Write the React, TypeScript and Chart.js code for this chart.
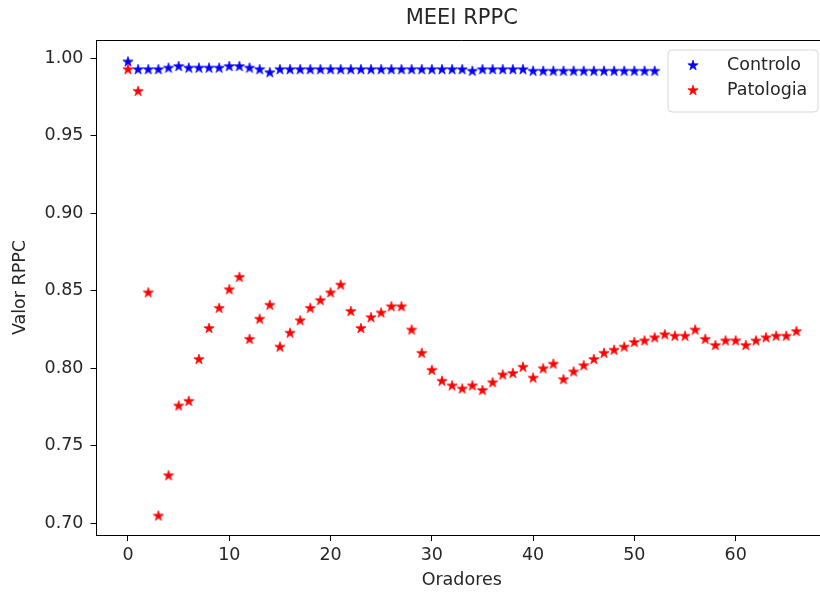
import React, { useEffect, useRef } from "react";
import { Chart, registerables } from "chart.js";

Chart.register(...registerables);

const chartTitle = "MEEI RPPC";
const xAxisLabel = "Oradores";
const yAxisLabel = "Valor RPPC";
const seriesNames = ["Controlo", "Patologia"];
const xTickValues = [0, 10, 20, 30, 40, 50, 60];
const yTickValues = [0.7, 0.75, 0.8, 0.85, 0.9, 0.95, 1.0];

const controlValues = [
  0.998, 0.993, 0.993, 0.993, 0.994, 0.995, 0.994, 0.994, 0.994, 0.994,
  0.995, 0.995, 0.994, 0.993, 0.991, 0.993, 0.993, 0.993, 0.993, 0.993,
  0.993, 0.993, 0.993, 0.993, 0.993, 0.993, 0.993, 0.993, 0.993, 0.993,
  0.993, 0.993, 0.993, 0.993, 0.992, 0.993, 0.993, 0.993, 0.993, 0.993,
  0.992, 0.992, 0.992, 0.992, 0.992, 0.992, 0.992, 0.992, 0.992, 0.992,
  0.992, 0.992, 0.992,
];

const pathologyValues = [
  0.993, 0.979, 0.849, 0.705, 0.731, 0.776, 0.779, 0.806, 0.826, 0.839,
  0.851, 0.859, 0.819, 0.832, 0.841, 0.814, 0.823, 0.831, 0.839, 0.844,
  0.849, 0.854, 0.837, 0.826, 0.833, 0.836, 0.840, 0.840, 0.825, 0.810,
  0.799, 0.792, 0.789, 0.787, 0.789, 0.786, 0.791, 0.796, 0.797, 0.801,
  0.794, 0.800, 0.803, 0.793, 0.798, 0.802, 0.806, 0.810, 0.812, 0.814,
  0.817, 0.818, 0.820, 0.822, 0.821, 0.821, 0.825, 0.819, 0.815, 0.818,
  0.818, 0.815, 0.818, 0.820, 0.821, 0.821, 0.824,
];

const FONT = "'DejaVu Sans', sans-serif";
const TEXT_COLOR = "#262626";
const CANVAS_W = 828;
const CANVAS_H = 592;

function makeStar(color: string, size: number, R: number): HTMLCanvasElement {
  const c = document.createElement("canvas");
  c.width = size;
  c.height = size;
  const ctx = c.getContext("2d")!;
  const cx = size / 2;
  const cy = size / 2 + 0.5;
  const r = R * 0.381966;
  ctx.beginPath();
  for (let k = 0; k < 10; k++) {
    const ang = -Math.PI / 2 + (k * Math.PI) / 5;
    const rad = k % 2 === 0 ? R : r;
    const px = cx + rad * Math.cos(ang);
    const py = cy + rad * Math.sin(ang);
    if (k === 0) ctx.moveTo(px, py);
    else ctx.lineTo(px, py);
  }
  ctx.closePath();
  ctx.fillStyle = color;
  ctx.fill();
  ctx.lineWidth = 0.7;
  ctx.strokeStyle = color;
  ctx.stroke();
  return c;
}

export default function App() {
  const canvasRef = useRef<HTMLCanvasElement | null>(null);

  useEffect(() => {
    document.body.style.margin = "0";
    const canvas = canvasRef.current;
    if (!canvas) return;

    const blueStar = makeStar("#0000ff", 12, 5.4);
    const redStar = makeStar("#ff0000", 12, 5.4);

    const framePlugin = {
      id: "frame",
      afterDraw(chart: any) {
        const { ctx, chartArea } = chart;
        ctx.save();
        // keep the right side of the axes open (cropped in the reference)
        ctx.fillStyle = "#fff";
        ctx.fillRect(814, chartArea.top + 2, CANVAS_W - 814, chartArea.bottom - chartArea.top - 3);

        ctx.strokeStyle = "#000";
        ctx.lineWidth = 1;
        ctx.beginPath();
        ctx.moveTo(chartArea.left, chartArea.top + 0.5);
        ctx.lineTo(chartArea.right, chartArea.top + 0.5);
        ctx.stroke();

        // title
        ctx.fillStyle = TEXT_COLOR;
        ctx.font = `21px ${FONT}`;
        ctx.textAlign = "center";
        ctx.textBaseline = "middle";
        ctx.fillText(chartTitle, (chartArea.left + chartArea.right) / 2, 19);

        // legend
        const bx = 668, by = 50, bw = 150, bh = 62, rr = 4;
        ctx.beginPath();
        ctx.moveTo(bx + rr, by);
        ctx.lineTo(bx + bw - rr, by);
        ctx.quadraticCurveTo(bx + bw, by, bx + bw, by + rr);
        ctx.lineTo(bx + bw, by + bh - rr);
        ctx.quadraticCurveTo(bx + bw, by + bh, bx + bw - rr, by + bh);
        ctx.lineTo(bx + rr, by + bh);
        ctx.quadraticCurveTo(bx, by + bh, bx, by + bh - rr);
        ctx.lineTo(bx, by + rr);
        ctx.quadraticCurveTo(bx, by, bx + rr, by);
        ctx.closePath();
        ctx.fillStyle = "rgba(255,255,255,0.8)";
        ctx.fill();
        ctx.strokeStyle = "#d6d6d6";
        ctx.lineWidth = 1;
        ctx.stroke();

        const stars = [blueStar, redStar];
        const rowsY = [65, 90];
        ctx.textAlign = "left";
        ctx.textBaseline = "middle";
        ctx.font = `17.5px ${FONT}`;
        for (let i = 0; i < seriesNames.length; i++) {
          const s = stars[i];
          ctx.drawImage(s, 693 - s.width / 2, rowsY[i] - s.height / 2);
          ctx.fillStyle = TEXT_COLOR;
          ctx.fillText(seriesNames[i], 727, rowsY[i]);
        }
        ctx.restore();
      },
    };

    const chart = new Chart(canvas, {
      type: "scatter",
      data: {
        datasets: [
          {
            label: seriesNames[0],
            data: controlValues.map((v, i) => ({ x: i, y: v })),
            pointStyle: blueStar as any,
            pointRadius: 5,
            backgroundColor: "#0000ff",
            borderColor: "#0000ff",
            showLine: false,
            order: 1,
          },
          {
            label: seriesNames[1],
            data: pathologyValues.map((v, i) => ({ x: i, y: v })),
            pointStyle: redStar as any,
            pointRadius: 5,
            backgroundColor: "#ff0000",
            borderColor: "#ff0000",
            showLine: false,
            order: 0,
          },
        ],
      },
      options: {
        animation: false,
        responsive: false,
        maintainAspectRatio: false,
        devicePixelRatio: 1,
        layout: { autoPadding: false, padding: { left: 0, right: 1, top: 40, bottom: 0 } },
        plugins: {
          legend: { display: false },
          title: { display: false },
          tooltip: { enabled: false },
        },
        scales: {
          x: {
            type: "linear",
            min: -3.11,
            max: 69.02,
            afterBuildTicks: (scale: any) => {
              scale.ticks = xTickValues.map((v) => ({ value: v }));
            },
            afterFit: (scale: any) => {
              scale.height = 57;
              scale.paddingLeft = 0;
              scale.paddingRight = 0;
            },
            grid: {
              drawOnChartArea: false,
              drawTicks: true,
              tickLength: 6,
              color: "#000",
              tickColor: "#000",
            },
            border: { display: true, color: "#000", width: 1 },
            ticks: {
              color: TEXT_COLOR,
              font: { family: FONT, size: 17.5 },
              padding: 4,
              maxRotation: 0,
              callback: (v: any) => String(v),
            },
            title: {
              display: true,
              text: xAxisLabel,
              color: TEXT_COLOR,
              font: { family: FONT, size: 17.5 },
              padding: { top: 2, bottom: 1 },
            },
          },
          y: {
            type: "linear",
            min: 0.69245,
            max: 1.0118,
            afterBuildTicks: (scale: any) => {
              scale.ticks = yTickValues.map((v) => ({ value: v }));
            },
            afterFit: (scale: any) => {
              scale.width = 96.5;
              scale.paddingTop = 0;
              scale.paddingBottom = 0;
            },
            grid: {
              drawOnChartArea: false,
              drawTicks: true,
              tickLength: 6,
              color: "#000",
              tickColor: "#000",
            },
            border: { display: true, color: "#000", width: 1 },
            ticks: {
              color: TEXT_COLOR,
              font: { family: FONT, size: 17.5 },
              padding: 7,
              callback: (v: any) => Number(v).toFixed(2),
            },
            title: {
              display: true,
              text: yAxisLabel,
              color: TEXT_COLOR,
              font: { family: FONT, size: 17.5 },
              padding: { top: 10, bottom: 0 },
            },
          },
        },
      },
      plugins: [framePlugin],
    });

    return () => {
      chart.destroy();
    };
  }, []);

  return (
    <div style={{ width: 820, height: 592, overflow: "hidden", background: "#fff" }}>
      <div style={{ width: CANVAS_W, height: CANVAS_H }}>
        <canvas
          ref={canvasRef}
          width={CANVAS_W}
          height={CANVAS_H}
          style={{ display: "block", width: CANVAS_W, height: CANVAS_H }}
        />
      </div>
    </div>
  );
}
